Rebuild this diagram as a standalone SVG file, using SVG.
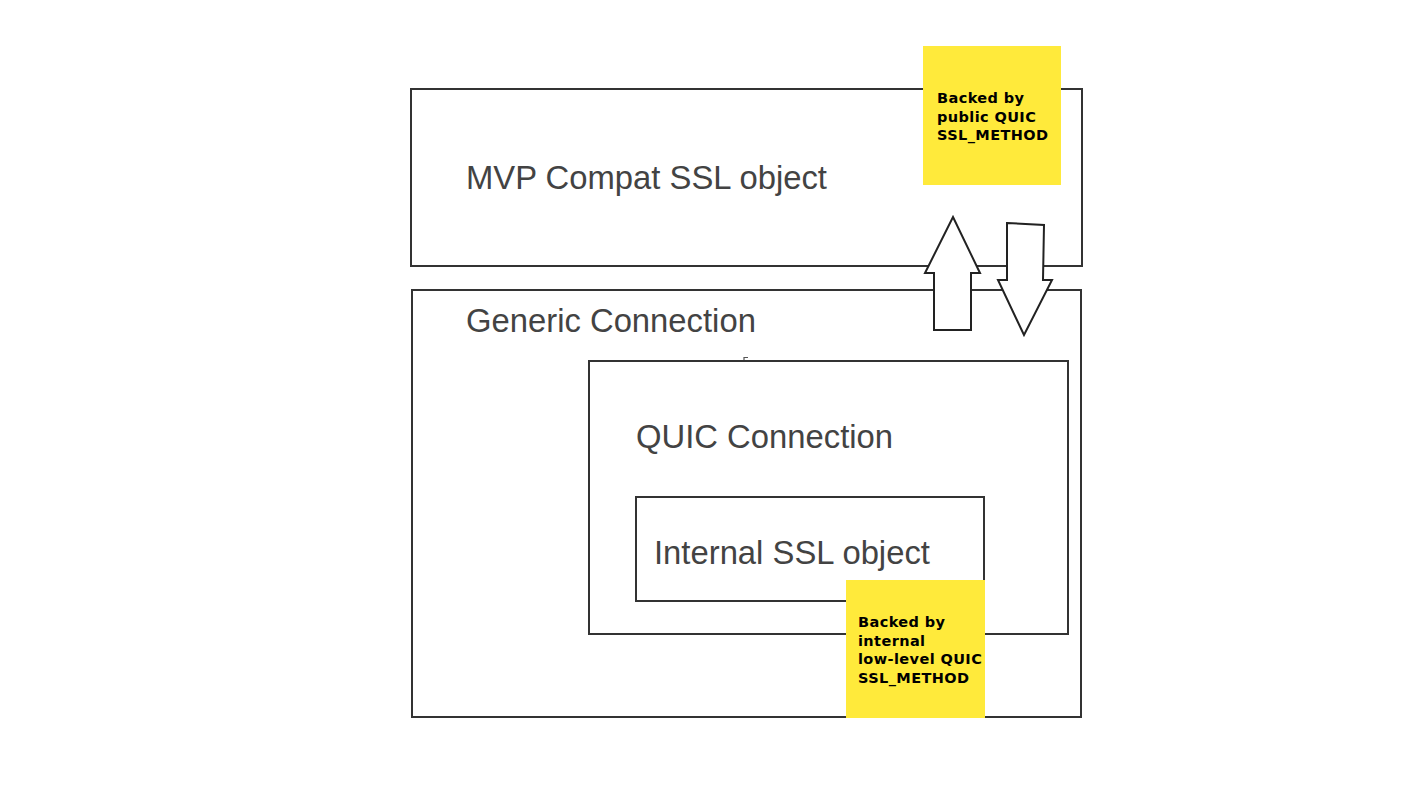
<svg xmlns="http://www.w3.org/2000/svg" width="1422" height="800" viewBox="0 0 1422 800">
<style>
.box{fill:none;stroke:#333;stroke-width:2}
.lbl{font-family:"Liberation Sans",Arial,sans-serif;font-size:32.8px;fill:#434343}
.note{fill:#ffea3b}
.nt{font-family:"DejaVu Sans",sans-serif;font-weight:bold;font-size:14.5px;letter-spacing:0.4px;fill:#000}
.arr{fill:#fff;stroke:#222;stroke-width:2;stroke-linejoin:miter}
</style>
<rect width="1422" height="800" fill="#fff"/>
<g id="mvp">
<rect class="box" x="411" y="89" width="671" height="177"/>
<text class="lbl" x="466" y="189">MVP Compat SSL object</text>
</g>
<g id="generic">
<rect class="box" x="412" y="290" width="669" height="427"/>
<text class="lbl" x="466" y="332">Generic Connection</text>
<path d="M744 361 V357.5 H748" fill="none" stroke="#555" stroke-width="1.2"/>
</g>
<g id="quic">
<rect class="box" x="589" y="361" width="479" height="273"/>
<text class="lbl" x="636" y="448">QUIC Connection</text>
</g>
<g id="internal">
<rect class="box" x="636" y="497" width="348" height="104"/>
<text class="lbl" x="654" y="564">Internal SSL object</text>
</g>
<g id="note1">
<rect class="note" x="923" y="46" width="138" height="139"/>
<text class="nt" x="937" y="103">Backed by</text>
<text class="nt" x="937" y="121.5">public QUIC</text>
<text class="nt" x="937" y="140">SSL_METHOD</text>
</g>
<g id="note2">
<rect class="note" x="846" y="580" width="139" height="138"/>
<text class="nt" x="858" y="627">Backed by</text>
<text class="nt" x="858" y="645.5">internal</text>
<text class="nt" x="858" y="664">low-level QUIC</text>
<text class="nt" x="858" y="682.5">SSL_METHOD</text>
</g>
<g id="connectors">
<path class="arr" d="M953 217 L980 273 L971 273 L971 330 L934 330 L934 273 L925 273 Z"/>
<path class="arr" d="M1007 223 L1044 225 L1043 280 L1052 280 L1024 335 L998 280 L1007 280 Z"/>
</g>
</svg>
